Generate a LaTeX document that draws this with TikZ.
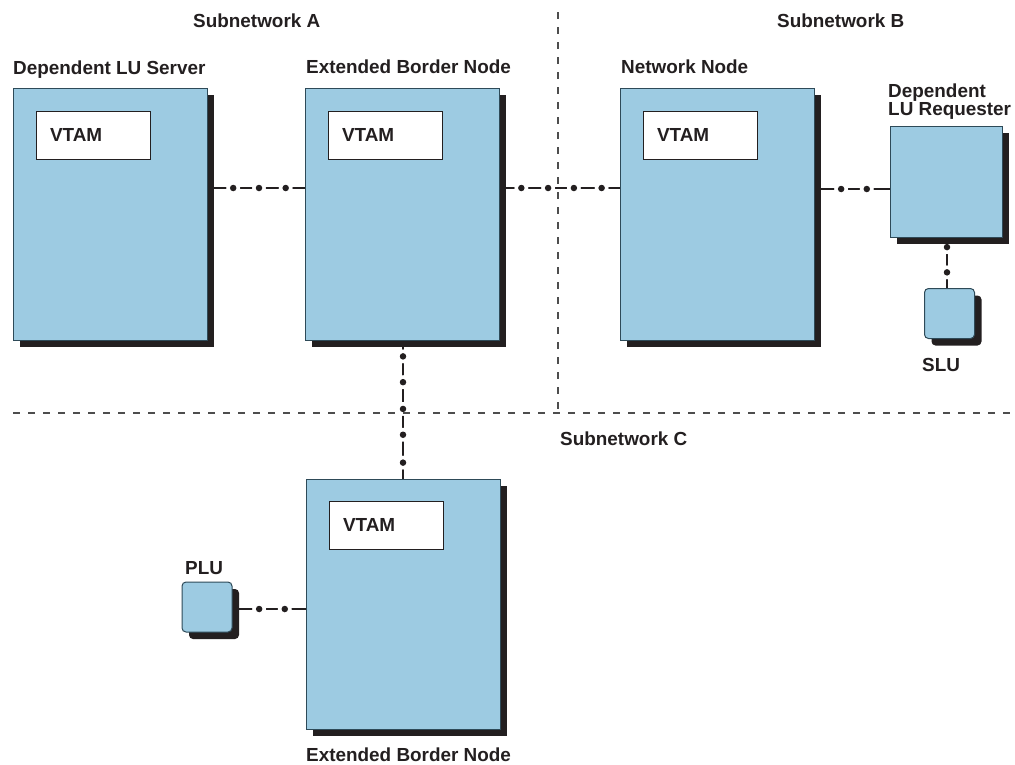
\documentclass[tikz,border=0pt]{standalone}
\usepackage{fontspec}
\setmainfont{Liberation Sans}
\usetikzlibrary{calc,shadows}
\definecolor{boxfill}{HTML}{9DCBE2}
\definecolor{boxline}{HTML}{2E4A58}
\definecolor{shadowc}{HTML}{231F20}
\definecolor{ink}{HTML}{231F20}
\definecolor{divc}{HTML}{4D4D4D}
\pgfdeclarelayer{background}
\pgfsetlayers{background,main}
\begin{document}
\begin{tikzpicture}[x=1pt,y=-1pt,
 every node/.style={font=\fontsize{18.9}{18}\selectfont\bfseries, text=ink},
 sysbox/.style={rectangle, draw=boxline, line width=1pt, fill=boxfill, inner sep=0pt,
   general shadow={fill=shadowc, shadow xshift=7pt, shadow yshift=-7pt}},
 bigbox/.style={sysbox, minimum width=194pt, minimum height=252pt},
 lubox/.style={sysbox, rounded corners=4pt, minimum width=50pt, minimum height=50pt},
 vtam/.style={rectangle, draw=ink, line width=1pt, fill=white, anchor=north west,
   text width=86pt, align=left, inner xsep=14pt, inner ysep=0pt, minimum height=48pt},
 lbl/.style={anchor=base west, inner sep=0pt},
 link/.style={draw=ink, line width=1.5pt},
 dot/.style={circle, fill=ink, inner sep=0pt, minimum size=6.5pt,
   preaction={draw=white, line width=7pt}},
 divider/.style={draw=divc, line width=1.2pt, dash pattern=on 7pt off 8pt},
]
\useasboundingbox (0,0) rectangle (1015,764);

% boxes
\node[bigbox] (dls) at (110,214) {};
\node[bigbox] (ebn1) at (402,214) {};
\node[bigbox] (nn) at (717,214) {};
\node[sysbox, minimum width=112pt, minimum height=111pt] (dlr) at (946,181.5) {};
\node[lubox] (slu) at (949.5,313.5) {};
\node[sysbox, minimum width=194pt, minimum height=250pt] (ebn2) at (403,604) {};
\node[lubox] (plu) at (207,607) {};

% VTAM boxes
\node[vtam] (vt1) at ($(dls.north west)+(23,23)$) {VTAM};
\node[vtam] (vt2) at ($(ebn1.north west)+(23,23)$) {VTAM};
\node[vtam] (vt3) at ($(nn.north west)+(23,23)$) {VTAM};
\node[vtam] (vt4) at ($(ebn2.north west)+(23,22)$) {VTAM};

% labels
\node[lbl] (la) at (193,27) {Subnetwork A};
\node[lbl] (lb) at (777,27) {Subnetwork B};
\node[lbl] (lc) at (560,445) {Subnetwork C};
\node[lbl] (ldls) at (13,74) {Dependent LU Server};
\node[lbl] (lebn1) at (306,73) {Extended Border Node};
\node[lbl] (lnn) at (621,73) {Network Node};
\node[lbl] (ldlr1) at (888,97) {Dependent};
\node[lbl] (ldlr2) at (888,115) {LU Requester};
\node[lbl] (lslu) at (922,371) {SLU};
\node[lbl] (lplu) at (185,574) {PLU};
\node[lbl] (lebn2) at (306,761) {Extended Border Node};

\begin{pgfonlayer}{background}
\coordinate (h1) at (0,188);
\coordinate (h2) at (0,189);
\coordinate (h3) at (0,609);
\coordinate (vx) at (947,0);
\coordinate (vy) at (403,0);
\draw[link] (dls.east |- h1) -- node[dot,pos=.265]{} node[dot,pos=.531]{} node[dot,pos=.806]{} (ebn1.west |- h1);
\draw[link] (ebn1.east |- h1) -- node[dot,pos=.182]{} node[dot,pos=.405]{} node[dot,pos=.62]{} node[dot,pos=.851]{} (nn.west |- h1);
\draw[link] (nn.east |- h2) -- node[dot,pos=.355]{} node[dot,pos=.697]{} (dlr.west |- h2);
\draw[link] (vx |- dlr.south) -- node[dot,pos=.19]{} node[dot,pos=.69]{} (vx |- slu.north);
\draw[link] (vy |- ebn1.south) -- node[dot,pos=.115]{} node[dot,pos=.302]{} node[dot,pos=.496]{} node[dot,pos=.683]{} node[dot,pos=.885]{} (vy |- ebn2.north);
\draw[link] (plu.east |- h3) -- node[dot,pos=.365]{} node[dot,pos=.716]{} (ebn2.west |- h3);
% subnetwork dividers
\coordinate (dtop) at (558,12);
\coordinate (dcorner) at (558,413);
\coordinate (dleft) at (13,413);
\coordinate (dright) at (1012,413);
\draw[divider] (dtop) -- (dcorner);
\draw[divider] (dleft) -- (dright);
\end{pgfonlayer}
\end{tikzpicture}
\end{document}
